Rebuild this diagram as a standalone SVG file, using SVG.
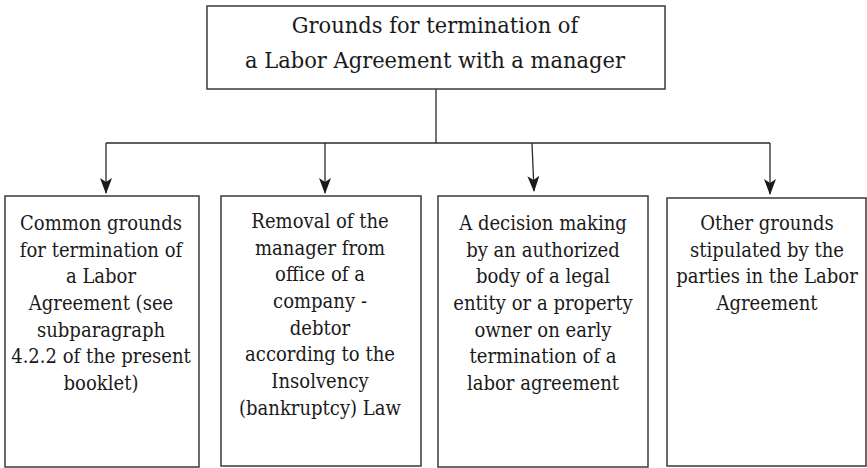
<svg xmlns="http://www.w3.org/2000/svg" width="867" height="468" viewBox="0 0 867 468">
<style>
.box{fill:#fff;stroke:#3a3a3a;stroke-width:1.5}
.ln{fill:none;stroke:#2a2a2a;stroke-width:1.3}
.t{font-family:'DejaVu Serif',serif;fill:#1a1a1a;text-anchor:middle}
.tt{font-size:22px}
.bt{font-size:19.5px}
</style>
<defs>
<marker id="ah" viewBox="0 0 16 12" refX="15" refY="6" markerWidth="16" markerHeight="12" markerUnits="userSpaceOnUse" orient="auto">
<path d="M0,0 L16,6 L0,12 L4,6 Z" fill="#1a1a1a"/>
</marker>
</defs>
<rect width="867" height="468" fill="#fff"/>
<g id="connectors">
<path class="ln" d="M436,89 V143"/>
<path class="ln" d="M106,143 H770"/>
<path class="ln" d="M106,143 V193" marker-end="url(#ah)"/>
<path class="ln" d="M325,143 V193" marker-end="url(#ah)"/>
<path class="ln" d="M532,143 L534,191" marker-end="url(#ah)"/>
<path class="ln" d="M770,143 V194" marker-end="url(#ah)"/>
</g>
<g id="root">
<rect class="box" x="207" y="6" width="458" height="83"/>
<g transform="translate(435,0) scale(0.955,1)">
<text class="t tt" x="0" y="33">Grounds for termination of</text>
<text class="t tt" x="0" y="68">a Labor Agreement with a manager</text>
</g>
</g>
<g id="n1">
<rect class="box" x="5" y="196" width="194" height="271"/>
<text class="t bt" transform="translate(101,0) scale(0.925,1)"><tspan x="0" y="230">Common grounds</tspan><tspan x="0" y="256.7">for termination of</tspan><tspan x="0" y="283.4">a Labor</tspan><tspan x="0" y="310.1">Agreement (see</tspan><tspan x="0" y="336.8">subparagraph</tspan><tspan x="0" y="363.5">4.2.2 of the present</tspan><tspan x="0" y="390.2">booklet)</tspan></text>
</g>
<g id="n2">
<rect class="box" x="221" y="196" width="200" height="270"/>
<text class="t bt" transform="translate(320,0) scale(0.925,1)"><tspan x="0" y="228">Removal of the</tspan><tspan x="0" y="254.7">manager from</tspan><tspan x="0" y="281.4">office of a</tspan><tspan x="0" y="308.1">company -</tspan><tspan x="0" y="334.8">debtor</tspan><tspan x="0" y="361.5">according to the</tspan><tspan x="0" y="388.2">Insolvency</tspan><tspan x="0" y="414.9">(bankruptcy) Law</tspan></text>
</g>
<g id="n3">
<rect class="box" x="438" y="196" width="210" height="271"/>
<text class="t bt" transform="translate(543,0) scale(0.925,1)"><tspan x="0" y="230">A decision making</tspan><tspan x="0" y="256.7">by an authorized</tspan><tspan x="0" y="283.4">body of a legal</tspan><tspan x="0" y="310.1">entity or a property</tspan><tspan x="0" y="336.8">owner on early</tspan><tspan x="0" y="363.5">termination of a</tspan><tspan x="0" y="390.2">labor agreement</tspan></text>
</g>
<g id="n4">
<rect class="box" x="667" y="198" width="199" height="268"/>
<text class="t bt" transform="translate(767,0) scale(0.925,1)"><tspan x="0" y="230">Other grounds</tspan><tspan x="0" y="256.7">stipulated by the</tspan><tspan x="0" y="283.4">parties in the Labor</tspan><tspan x="0" y="310.1">Agreement</tspan></text>
</g>
</svg>
